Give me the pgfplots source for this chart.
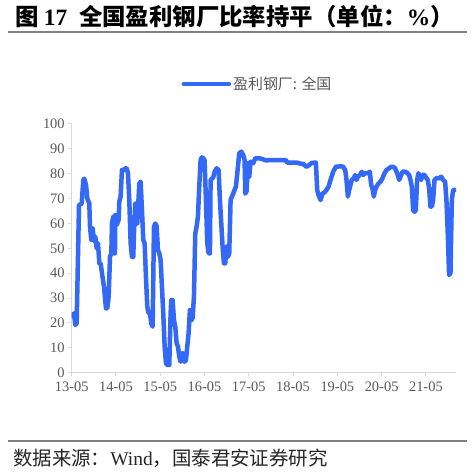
\documentclass[border=0pt]{standalone}
\usepackage{pgfplots}
\pgfplotsset{compat=1.18}
\usepackage{fontspec}
\setmainfont{Liberation Serif}
\newfontfamily\cjk{Noto Sans CJK SC}
\definecolor{lineblue}{RGB}{52,104,247}
\definecolor{ticktext}{RGB}{89,89,89}
\definecolor{axisgray}{RGB}{217,217,217}
\definecolor{rulegray}{RGB}{128,128,128}

% share of profitable steel mills, x = years since 2013-05
\pgfplotstableread{
t v
0.022 22.8
0.052 23.9
0.082 19.2
0.112 19.8
0.165 67.4
0.225 68.0
0.263 77.5
0.285 78.0
0.323 75.5
0.353 70.0
0.398 68.0
0.413 58.7
0.443 53.4
0.473 58.0
0.503 53.0
0.533 54.7
0.564 50.0
0.594 52.0
0.624 44.0
0.654 44.0
0.684 40.0
0.729 34.6
0.774 25.9
0.804 25.9
0.835 30.6
0.865 46.6
0.895 48.0
0.910 60.0
0.940 62.7
0.955 48.0
0.977 48.0
0.985 63.4
1.015 59.4
1.060 61.4
1.075 68.8
1.105 70.8
1.135 81.5
1.181 81.5
1.211 82.2
1.241 82.2
1.271 80.2
1.301 69.4
1.331 52.0
1.361 46.6
1.391 46.6
1.406 56.0
1.436 68.0
1.451 60.0
1.481 60.0
1.527 76.1
1.557 76.8
1.587 65.4
1.617 53.4
1.647 52.0
1.677 38.6
1.707 26.5
1.737 23.9
1.767 23.9
1.798 19.8
1.828 18.5
1.858 58.7
1.888 60.0
1.918 59.0
1.948 49.3
1.978 48.0
2.008 45.3
2.038 34.6
2.068 23.9
2.099 10.5
2.129 3.8
2.159 3.1
2.204 3.1
2.234 23.9
2.249 29.2
2.279 29.2
2.309 21.2
2.339 18.5
2.370 11.8
2.400 10.5
2.430 6.4
2.460 4.4
2.490 7.8
2.520 7.8
2.550 4.4
2.580 5.0
2.610 10.5
2.640 15.8
2.670 25.2
2.700 21.0
2.731 22.0
2.761 30.6
2.791 56.0
2.821 58.7
2.851 62.7
2.881 74.8
2.911 85.5
2.941 86.6
2.971 86.2
3.001 85.5
3.032 69.4
3.062 52.0
3.092 48.0
3.122 48.0
3.137 77.5
3.167 78.0
3.197 78.5
3.227 80.8
3.273 82.2
3.318 81.5
3.348 69.4
3.378 60.0
3.408 50.7
3.438 44.0
3.468 44.0
3.498 50.7
3.528 46.6
3.558 48.0
3.589 69.4
3.619 70.8
3.649 72.0
3.679 73.5
3.709 74.8
3.739 80.0
3.784 88.2
3.829 88.9
3.874 87.5
3.905 85.5
3.920 72.0
3.950 73.0
3.980 84.2
4.010 78.8
4.040 84.9
4.100 84.2
4.145 86.2
4.251 86.2
4.401 85.3
4.446 85.5
4.702 85.5
4.837 85.5
4.868 84.5
5.078 84.5
5.154 84.1
5.229 83.9
5.304 82.8
5.350 83.3
5.417 84.3
5.515 84.5
5.545 73.5
5.575 71.4
5.620 69.4
5.665 72.0
5.710 72.5
5.756 73.5
5.801 74.8
5.846 77.5
5.906 80.8
5.966 82.8
6.087 83.0
6.132 82.8
6.177 81.5
6.207 77.5
6.237 70.8
6.267 73.5
6.297 75.5
6.327 77.5
6.372 78.2
6.402 79.5
6.433 77.5
6.463 78.8
6.508 79.5
6.553 80.8
6.583 79.5
6.628 80.2
6.688 80.2
6.734 80.8
6.764 75.5
6.794 74.1
6.824 70.8
6.854 73.5
6.884 74.8
6.930 76.1
6.975 76.8
7.020 78.2
7.065 80.2
7.110 81.5
7.170 82.2
7.215 82.8
7.260 82.8
7.305 82.2
7.336 80.8
7.366 79.5
7.396 77.5
7.426 78.8
7.471 80.8
7.531 80.8
7.576 80.4
7.621 79.5
7.652 77.5
7.682 74.8
7.712 65.4
7.742 64.7
7.772 65.4
7.802 77.5
7.832 80.2
7.862 78.8
7.892 77.5
7.922 79.5
7.968 79.5
8.013 78.2
8.043 77.5
8.073 74.1
8.103 66.8
8.133 66.8
8.163 69.4
8.194 77.5
8.239 78.2
8.299 78.2
8.344 78.8
8.389 77.5
8.434 76.8
8.464 69.4
8.494 56.0
8.524 39.3
8.555 40.0
8.585 69.4
8.615 73.5
8.660 73.5
}\mills

\begin{document}
\begin{tikzpicture}[x=1bp,y=1bp]
\useasboundingbox (0,0) rectangle (475,473);
\fill[white] (0,0) rectangle (475,473);
% title and rules
\node[anchor=west,inner sep=0pt] at (15,457) {\fontsize{23.5}{26}\selectfont\bfseries\cjk 图 \textbf{\rmfamily 17}\hspace{0.5em}全国盈利钢厂比率持平（单位：\textbf{\rmfamily\%}）};
\draw[rulegray,line width=1.3bp] (8,441) -- (467,441);
\draw[rulegray,line width=1.3bp] (8,32) -- (467,32);
\node[anchor=west,inner sep=0pt,text=black!85] at (13,15) {\fontsize{19.5}{22}\selectfont\cjk 数据来源：{\rmfamily Wind}，国泰君安证券研究};
\begin{axis}[
  at={(71.7bp,100.3bp)}, anchor=south west,
  scale only axis, width=384.3bp, height=248.7bp,
  xmin=0, xmax=8.68, ymin=0, ymax=100,
  axis x line*=bottom, axis y line*=left,
  axis line style={draw=axisgray,line width=1bp},
  xtick={0,1,...,8},
  xticklabels={13-05,14-05,15-05,16-05,17-05,18-05,19-05,20-05,21-05},
  ytick={0,10,...,100},
  tick align=outside, major tick length=3.5bp,
  tick style={draw=axisgray,line width=1bp},
  /pgf/number format/assume math mode=true,
  ticklabel style={font=\fontsize{14.5}{16}\selectfont, text=ticktext},
  xticklabel style={yshift=-2bp},
  legend style={draw=none, fill=none, at={(0.4835,1.161)}, anchor=center,
    font=\fontsize{15}{17}\selectfont\cjk, text=ticktext,
    inner sep=0pt, column sep=0pt},
  legend cell align=left,
  legend image code/.code={\draw[line width=4.5bp,lineblue] (0bp,0bp) -- (45bp,0bp);},
]
\addplot[lineblue, line width=4.5bp, line join=round, line cap=round] table[x=t,y=v] {\mills};
\addlegendentry{盈利钢厂: 全国}
\end{axis}
\end{tikzpicture}
\end{document}
